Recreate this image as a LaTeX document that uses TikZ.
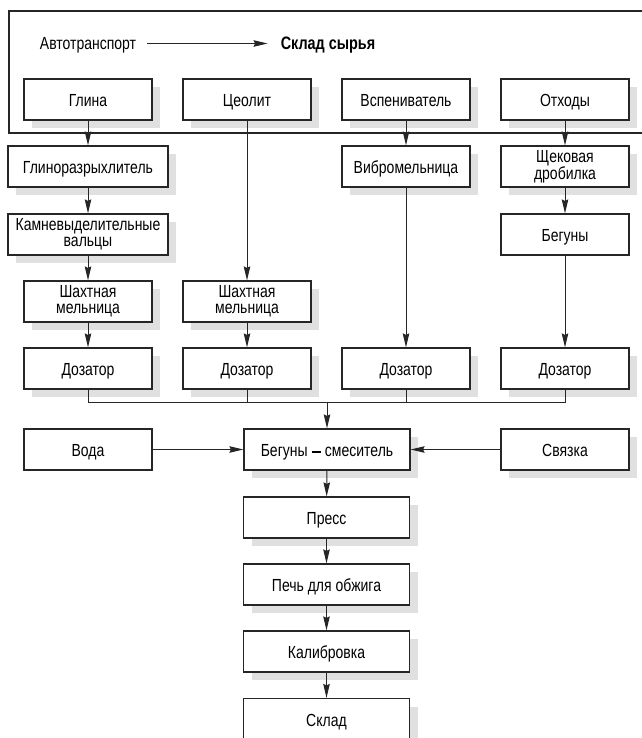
\documentclass[tikz,border=0pt]{standalone}
\usepackage{fontspec}
\setmainfont{Liberation Sans}[FakeStretch=0.8]
\usetikzlibrary{arrows.meta,shadows}
\newcommand{\bardash}{\rule[3.8pt]{9.5pt}{2.3pt}}
\begin{document}
\begin{tikzpicture}[x=1pt,y=-1pt,
  txt/.style={font=\fontsize{17.5}{15.8}\selectfont},
  box/.style={txt, draw=black!85, line width=1.2pt, fill=white, minimum width=128pt, minimum height=41pt, inner sep=2pt, align=center},
  one/.style={text height=14.4pt, text depth=0pt},
  head/.style={txt, inner sep=0pt, text height=12.4pt, text depth=0pt},
  wbox/.style={box, minimum width=160pt},
  mbox/.style={box, one, minimum width=166pt},
  shd/.style={drop shadow={shadow xshift=8pt, shadow yshift=-8pt, fill=black!12, opacity=1}},
  ln/.style={draw=black!85, line width=1pt},
  arr/.style={ln, -{Stealth[length=14pt,width=6.5pt,inset=1.5pt]}}]
\useasboundingbox (0,0) rectangle (641,738);
% frame
\draw[line width=1.2pt, draw=black!85] (650,11) -- (9,11) -- (9,133) -- (650,133);
% header
\node[head] (auto) at (88,43.5) {Автотранспорт};
\node[head, font=\fontsize{18}{15.8}\selectfont\bfseries] (skl0) at (328,43.5) {Склад сырья};
\draw[arr, shorten <=11pt, shorten >=13pt] (auto) -- (skl0);
% row 0
\node[box,one,shd] (gl) at (88,99.5) {Глина};
\node[box,one,shd] (ce) at (247,99.5) {Цеолит};
\node[box,one,shd] (vs) at (406,99.5) {Вспениватель};
\node[box,one,shd] (ot) at (565,99.5) {Отходы};
% row 1
\node[wbox,one,shd] (glr) at (88,166.5) {Глиноразрыхлитель};
\node[box,one,shd] (vib) at (406,166.5) {Вибромельница};
\node[box,shd] (shch) at (565,166.5) {Щековая\\дробилка};
% row 2
\node[wbox,shd] (kam) at (88,234.5) {Камневыделительные\\вальцы};
\node[box,one] (beg) at (565,234.5) {Бегуны};
% row 3
\node[box,shd] (sh1) at (88,301.5) {Шахтная\\мельница};
\node[box,shd] (sh2) at (247,301.5) {Шахтная\\мельница};
% row 4
\node[box,one,shd] (d1) at (88,368.5) {Дозатор};
\node[box,one,shd] (d2) at (247,368.5) {Дозатор};
\node[box,one,shd] (d3) at (406,368.5) {Дозатор};
\node[box,one,shd] (d4) at (565,368.5) {Дозатор};
% row 5
\node[box,one] (voda) at (88,449.5) {Вода};
\node[mbox,shd] (mix) at (327,449.5) {Бегуны \bardash{} смеситель};
\node[box,one,shd] (svz) at (565,449.5) {Связка};
% chain
\node[mbox,shd] (pres) at (326.5,517.5) {Пресс};
\node[mbox,shd] (pech) at (326.5,584.5) {Печь для обжига};
\node[mbox,shd] (kal) at (326.5,651.5) {Калибровка};
\node[mbox,shd] (skl) at (326.5,719) {Склад};
% arrows
\draw[arr] (gl) -- (glr);
\draw[arr] (glr) -- (kam);
\draw[arr] (kam) -- (sh1);
\draw[arr] (sh1) -- (d1);
\draw[arr] (ce) -- (sh2);
\draw[arr] (sh2) -- (d2);
\draw[arr] (vs) -- (vib);
\draw[arr] (vib) -- (d3);
\draw[arr] (ot) -- (shch);
\draw[arr] (shch) -- (beg);
\draw[arr] (beg) -- (d4);
\coordinate (m) at (327,402);
\draw[ln] (d1.south) -- (d1.south |- m) -- (d4.south |- m) -- (d4.south);
\draw[ln] (d2.south) -- (d2.south |- m);
\draw[ln] (d3.south) -- (d3.south |- m);
\draw[arr] (m) -- (mix.north);
\draw[arr] (voda) -- (mix);
\draw[arr] (svz) -- (mix);
\draw[arr] (mix) -- (pres);
\draw[arr] (pres) -- (pech);
\draw[arr] (pech) -- (kal);
\draw[arr] (kal) -- (skl);
\end{tikzpicture}
\end{document}
